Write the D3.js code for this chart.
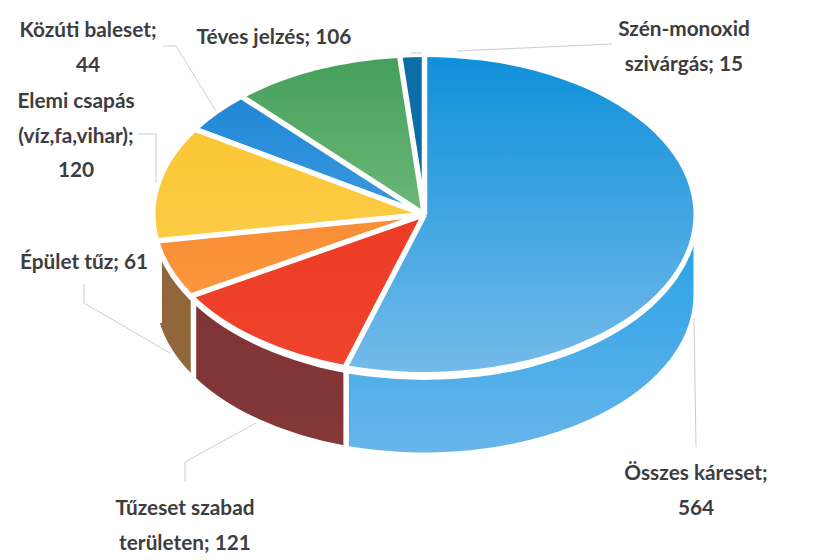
<!DOCTYPE html>
<html>
<head>
<meta charset="utf-8">
<script src="https://cdn.jsdelivr.net/npm/d3@7"></script>
<style>
  html, body { margin: 0; padding: 0; background: #fff; }
  text { font-family: Lato, "Open Sans", sans-serif; font-weight: 700; fill: #3d3d3f; font-size: 20.8px; text-anchor: middle; }
</style>
</head>
<body>
<svg id="chart" width="822" height="560"></svg>
<script>
// data
const categories = ["Összes káreset", "Tűzeset szabad területen", "Épület tűz", "Elemi csapás (víz,fa,vihar)", "Közúti baleset", "Téves jelzés", "Szén-monoxid szivárgás"];
const values = [564, 121, 61, 120, 44, 106, 15];

// label text, one entry per line
const labelLines = [
    ["Összes káreset;", "564"],
    ["Tűzeset szabad", "területen; 121"],
    ["Épület tűz; 61"],
    ["Elemi csapás", "(víz,fa,vihar);", "120"],
    ["Közúti baleset;", "44"],
    ["Téves jelzés; 106"],
    ["Szén-monoxid", "szivárgás; 15"]
];

// colours: top face start/end, side face start/end
const topColors = [
    ["#0f90da", "#74baea"], ["#e7321e", "#f0442c"], ["#f47f2e", "#fd9d40"],
    ["#fbc32a", "#fdd25a"], ["#1583d6", "#62ace2"], ["#45a05c", "#94cf92"],
    ["#0d6ea8", "#11699c"]
];
const sideColors = [
    ["#22a0e6", "#68b5ea"], ["#7a3034", "#853838"], ["#8e6438", "#96693c"],
    null, null, null, null
];

const svg = d3.select("#chart");

// pie geometry
const cx = 424.5, cy = 214.5, rx = 269, ry = 157.5, depth = 80.5;
const gap = 5.5;

const pie = d3.pie().sort(null).value(d => d);
const arcs = pie(values);

// point on the rim for a pie angle (0 = top, clockwise)
const rimX = a => cx + rx * Math.sin(a);
const rimY = a => cy - ry * Math.cos(a);

// gradients
const defs = svg.append("defs");
function addGradient(id, c, y1, y2) {
    const g = defs.append("linearGradient")
        .attr("id", id)
        .attr("gradientUnits", "userSpaceOnUse")
        .attr("x1", 0).attr("x2", 0)
        .attr("y1", y1).attr("y2", y2);
    g.append("stop").attr("offset", 0).attr("stop-color", c[0]);
    g.append("stop").attr("offset", 1).attr("stop-color", c[1]);
}
// the top group is squashed, so its gradient runs in circle space
topColors.forEach((c, i) => addGradient("top" + i, c, -rx, rx));
sideColors.forEach((c, i) => { if (c) addGradient("side" + i, c, cy, cy + ry + depth); });

// side walls, only the front half of the pie shows
const sides = svg.append("g").attr("class", "sides");
arcs.forEach((d, i) => {
    const a0 = Math.max(d.startAngle, Math.PI / 2);
    const a1 = Math.min(d.endAngle, 3 * Math.PI / 2);
    if (a0 >= a1 || !sideColors[i]) return;
    const p = `M${rimX(a0)},${rimY(a0)}`
        + `A${rx},${ry} 0 0 1 ${rimX(a1)},${rimY(a1)}`
        + `L${rimX(a1)},${rimY(a1) + depth}`
        + `A${rx},${ry} 0 0 0 ${rimX(a0)},${rimY(a0) + depth}Z`;
    sides.append("path")
        .attr("d", p)
        .attr("fill", `url(#side${i})`);
});
// white seams between the walls
arcs.forEach(d => {
    const a = d.endAngle;
    if (a <= Math.PI / 2 || a >= 3 * Math.PI / 2) return;
    sides.append("line")
        .attr("x1", rimX(a)).attr("x2", rimX(a))
        .attr("y1", rimY(a)).attr("y2", rimY(a) + depth + 2)
        .attr("stroke", "#fff").attr("stroke-width", gap);
});

// white band between the top face and the walls
svg.append("ellipse")
    .attr("cx", cx).attr("cy", cy)
    .attr("rx", rx + 5).attr("ry", ry + 8)
    .attr("fill", "#fff");

// top faces, drawn as a circle and squashed to an ellipse
const arc = d3.arc().innerRadius(0).outerRadius(rx);
const topFace = svg.append("g")
    .attr("transform", `translate(${cx},${cy}) scale(1,${ry / rx})`);
topFace.selectAll("path")
    .data(arcs)
    .enter().append("path")
    .attr("d", arc)
    .attr("fill", (d, i) => `url(#top${i})`);

// white gaps between the slices, from the centre out past the rim
const spokeLen = rx + 4;
topFace.selectAll("line")
    .data(arcs)
    .enter().append("line")
    .attr("x1", 0).attr("y1", 0)
    .attr("x2", d => spokeLen * Math.sin(d.startAngle))
    .attr("y2", d => -spokeLen * Math.cos(d.startAngle))
    .attr("stroke", "#fff")
    .attr("stroke-width", gap)
    .attr("vector-effect", "non-scaling-stroke");

// leader lines
const leaders = [
    [[694, 318], [696, 447]],
    [[256, 423], [185, 462], [185, 482]],
    [[84, 284], [84, 303], [170, 353]],
    [[138, 134], [156, 134], [156, 183]],
    [[163, 46], [176, 46], [216, 111]],
    [[457, 51], [612, 44]],
    [[411, 53], [422, 53]]
];
const leaderLine = d3.line();
svg.append("g")
    .selectAll("path")
    .data(leaders)
    .enter().append("path")
    .attr("d", leaderLine)
    .attr("fill", "none")
    .attr("stroke", "#cdcdcd")
    .attr("stroke-width", 1);

// labels
const labelPos = [[696, 480], [185, 515], [84, 269], [76, 108], [88, 37], [274, 44], [684, 36]];
const lineGap = 34.5;
labelLines.forEach((lines, i) => {
    const t = svg.append("text");
    lines.forEach((s, j) => {
        t.append("tspan")
            .attr("x", labelPos[i][0])
            .attr("y", labelPos[i][1] + j * lineGap)
            .text(s);
    });
});
</script>
</body>
</html>
